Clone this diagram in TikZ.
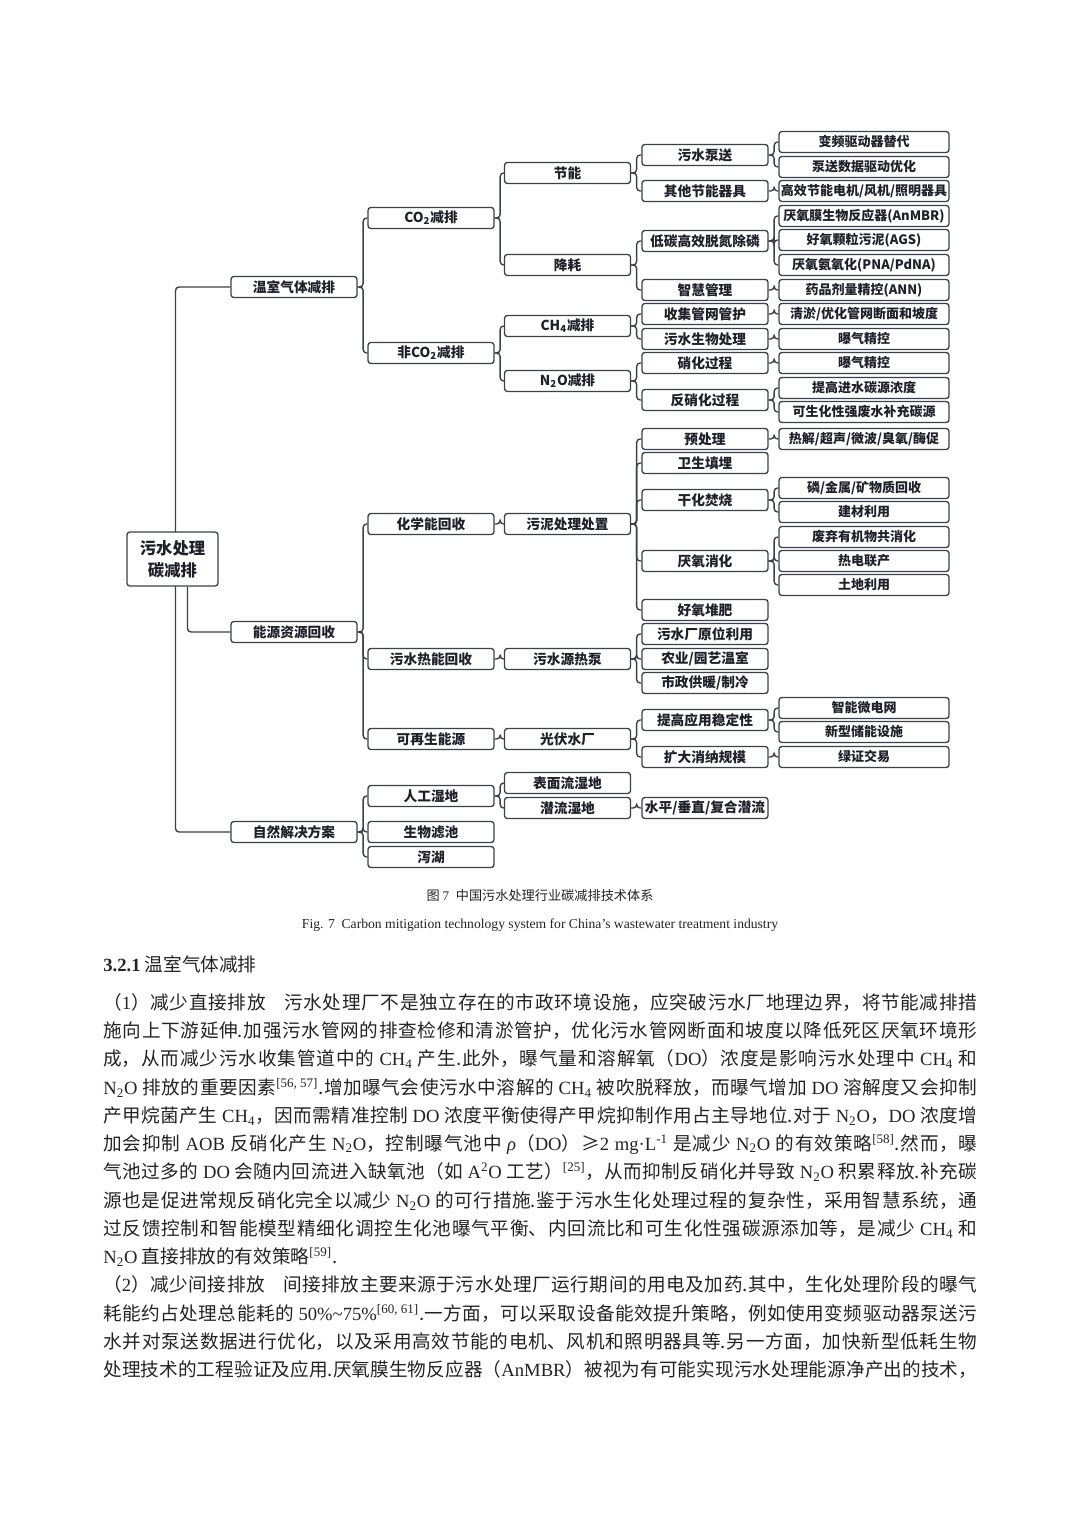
\documentclass[tikz,border=0pt]{standalone}
\usepackage{fontspec}
\setmainfont{Liberation Serif}
\newfontfamily\cjk{Noto Sans CJK SC}
\usetikzlibrary{backgrounds}
\XeTeXlinebreaklocale "zh"
\XeTeXlinebreakskip=0pt plus 1pt
\tolerance=10000
\hbadness=10000
\definecolor{LineGray}{RGB}{60,64,76}
\definecolor{InkDark}{RGB}{30,32,42}
\definecolor{BodyInk}{RGB}{35,35,35}
\newcommand\lat[1]{{\rmfamily #1}}
\newcommand\fullline{\parfillskip 0pt\relax}
\tikzset{
  box/.style={draw=LineGray, line width=0.75pt, rounded corners=1.6pt, fill=white,
    minimum width=2.52cm, minimum height=0.42cm, inner sep=0pt, text=InkDark,
    font=\cjk\bfseries\fontsize{7.8}{9}\selectfont},
  leaf/.style={box, minimum width=3.40cm, font=\cjk\bfseries\fontsize{7.4}{9}\selectfont},
  link/.style={draw=LineGray, line width=0.8pt, rounded corners=2pt},
  bodyline/.style={anchor=west, inner sep=0pt, text width=17.48cm, align=justify,
    text=BodyInk, font=\cjk\fontsize{10.6}{12}\selectfont,
    execute at begin node=\fullline},
  lastline/.style={anchor=west, inner sep=0pt, text=BodyInk,
    font=\cjk\fontsize{10.6}{12}\selectfont}
}

\begin{document}
\begin{tikzpicture}[x=0.02cm,y=-0.02cm]
  \useasboundingbox (0,0) rectangle (1080,1527);

  \node[box, minimum width=1.82cm, minimum height=1.08cm, align=center,
    font=\cjk\bfseries\fontsize{9.3}{12.5}\selectfont] (root) at (172.5,559) {污水处理\\碳减排};

  \node[box] (ghg) at (294,287) {温室气体减排};
  \node[box] (ere) at (294,632) {能源资源回收};
  \node[box] (nbs) at (294,832) {自然解决方案};

  \node[box] (co2)   at (431,218) {CO\textsubscript{2}减排};
  \node[box] (nco2)  at (431,353) {非CO\textsubscript{2}减排};
  \node[box] (chem)  at (431,524) {化学能回收};
  \node[box] (heat)  at (431,659) {污水热能回收};
  \node[box] (renew) at (431,739) {可再生能源};
  \node[box] (wet)   at (431,796) {人工湿地};
  \node[box] (bfil)  at (431,832) {生物滤池};
  \node[box] (lag)   at (431,857) {泻湖};

  \node[box] (save) at (567.5,173) {节能};
  \node[box] (cut)  at (567.5,265) {降耗};
  \node[box] (ch4)  at (567.5,326) {CH\textsubscript{4}减排};
  \node[box] (n2o)  at (567.5,381) {N\textsubscript{2}O减排};
  \node[box] (slud) at (567.5,524) {污泥处理处置};
  \node[box] (hp)   at (567.5,659) {污水源热泵};
  \node[box] (pv)   at (567.5,739) {光伏水厂};
  \node[box] (sfw)  at (567.5,783) {表面流湿地};
  \node[box] (ssf)  at (567.5,808) {潜流湿地};

  \node[box] (pump)   at (705,155) {污水泵送};
  \node[box] (oth)    at (705,191) {其他节能器具};
  \node[box] (bnr)    at (705,241) {低碳高效脱氮除磷};
  \node[box] (smart)  at (705,290) {智慧管理};
  \node[box] (sewer)  at (705,314) {收集管网管护};
  \node[box] (bio)    at (705,339) {污水生物处理};
  \node[box] (nit)    at (705,363) {硝化过程};
  \node[box] (den)    at (705,400) {反硝化过程};
  \node[box] (pre)    at (705,439) {预处理};
  \node[box] (land)   at (705,463) {卫生填埋};
  \node[box] (inc)    at (705,500) {干化焚烧};
  \node[box] (ad)     at (705,561) {厌氧消化};
  \node[box] (comp)   at (705,610) {好氧堆肥};
  \node[box] (insitu) at (705,634) {污水厂原位利用};
  \node[box] (agri)   at (705,659) {农业/园艺温室};
  \node[box] (muni)   at (705,683) {市政供暖/制冷};
  \node[box] (stab)   at (705,720) {提高应用稳定性};
  \node[box] (scale)  at (705,757) {扩大消纳规模};
  \node[box] (flow)   at (705,808) {水平/垂直/复合潜流};

  \node[leaf] (vfd)    at (864,142) {变频驱动器替代};
  \node[leaf] (pdata)  at (864,167) {泵送数据驱动优化};
  \node[leaf] (eff)    at (864,191) {高效节能电机/风机/照明器具};
  \node[leaf] (anmbr)  at (864,216) {厌氧膜生物反应器(AnMBR)};
  \node[leaf] (ags)    at (864,240) {好氧颗粒污泥(AGS)};
  \node[leaf] (pna)    at (864,265) {厌氧氨氧化(PNA/PdNA)};
  \node[leaf] (ann)    at (864,290) {药品剂量精控(ANN)};
  \node[leaf] (dredge) at (864,314) {清淤/优化管网断面和坡度};
  \node[leaf] (aer1)   at (864,339) {曝气精控};
  \node[leaf] (aer2)   at (864,363) {曝气精控};
  \node[leaf] (carb)   at (864,388) {提高进水碳源浓度};
  \node[leaf] (ext)    at (864,412) {可生化性强废水补充碳源};
  \node[leaf] (pret)   at (864,439) {热解/超声/微波/臭氧/酶促};
  \node[leaf] (prec)   at (864,488) {磷/金属/矿物质回收};
  \node[leaf] (build)  at (864,512) {建材利用};
  \node[leaf] (codig)  at (864,537) {废弃有机物共消化};
  \node[leaf] (chp)    at (864,561) {热电联产};
  \node[leaf] (soil)   at (864,585) {土地利用};
  \node[leaf] (grid)   at (864,708) {智能微电网};
  \node[leaf] (store)  at (864,732) {新型储能设施};
  \node[leaf] (gcert)  at (864,757) {绿证交易};

  \begin{scope}[on background layer]
    \draw[link] (ghg.west) -| ([xshift=0.06cm]root.center) |- (nbs.west);
    \draw[link] ([xshift=0.3cm]root.south) |- (ere.west);
    \foreach \p/\c in {ghg/co2, ghg/nco2, ere/chem, ere/heat, ere/renew,
        nbs/wet, nbs/bfil, nbs/lag, co2/save, co2/cut, nco2/ch4, nco2/n2o,
        chem/slud, heat/hp, renew/pv, wet/sfw, wet/ssf,
        save/pump, save/oth, cut/bnr, cut/smart, ch4/sewer, ch4/bio,
        n2o/nit, n2o/den, slud/pre, slud/land, slud/inc, slud/ad, slud/comp,
        hp/insitu, hp/agri, hp/muni, pv/stab, pv/scale, ssf/flow,
        pump/vfd, pump/pdata, oth/eff, bnr/anmbr, bnr/ags, bnr/pna,
        smart/ann, sewer/dredge, bio/aer1, nit/aer2, den/carb, den/ext,
        pre/pret, inc/prec, inc/build, ad/codig, ad/chp, ad/soil,
        stab/grid, stab/store, scale/gcert}
      \draw[link] (\p.east) -- ++(0.11cm,0) |- (\c.west);
  \end{scope}

  \node[text=BodyInk, font=\cjk\fontsize{7.5}{9}\selectfont] (capzh) at (540,896)
    {图 \lat{7}\enspace 中国污水处理行业碳减排技术体系};
  \node[text=BodyInk, font=\rmfamily\fontsize{7.75}{9}\selectfont] (capen) at (540,925)
    {Fig. 7\enspace Carbon mitigation technology system for China’s wastewater treatment industry};

  \node[lastline] (sec) at (103,964) {\lat{\textbf{3.2.1}} 温室气体减排};

  \node[bodyline] (t1) at (103,1003) {（\lat{1}）减少直接排放\quad 污水处理厂不是独立存在的市政环境设施，应突破污水厂地理边界，将节能减排措};
  \node[bodyline] (t2) at (103,1031) {施向上下游延伸.加强污水管网的排查检修和清淤管护，优化污水管网断面和坡度以降低死区厌氧环境形};
  \node[bodyline] (t3) at (103,1059) {成，从而减少污水收集管道中的 \lat{CH\textsubscript{4}} 产生.此外，曝气量和溶解氧（\lat{DO}）浓度是影响污水处理中 \lat{CH\textsubscript{4}} 和};
  \node[bodyline] (t4) at (103,1088) {\lat{N\textsubscript{2}O} 排放的重要因素\lat{\textsuperscript{[56, 57]}}.增加曝气会使污水中溶解的 \lat{CH\textsubscript{4}} 被吹脱释放，而曝气增加 \lat{DO} 溶解度又会抑制};
  \node[bodyline] (t5) at (103,1116) {产甲烷菌产生 \lat{CH\textsubscript{4}}，因而需精准控制 \lat{DO} 浓度平衡使得产甲烷抑制作用占主导地位.对于 \lat{N\textsubscript{2}O}，\lat{DO} 浓度增};
  \node[bodyline] (t6) at (103,1144) {加会抑制 \lat{AOB} 反硝化产生 \lat{N\textsubscript{2}O}，控制曝气池中 \lat{\textit{ρ}}（\lat{DO}）≥\lat{2 mg·L\textsuperscript{-1}} 是减少 \lat{N\textsubscript{2}O} 的有效策略\lat{\textsuperscript{[58]}}.然而，曝};
  \node[bodyline] (t7) at (103,1172) {气池过多的 \lat{DO} 会随内回流进入缺氧池（如 \lat{A\textsuperscript{2}O} 工艺）\lat{\textsuperscript{[25]}}，从而抑制反硝化并导致 \lat{N\textsubscript{2}O} 积累释放.补充碳};
  \node[bodyline] (t8) at (103,1201) {源也是促进常规反硝化完全以减少 \lat{N\textsubscript{2}O} 的可行措施.鉴于污水生化处理过程的复杂性，采用智慧系统，通};
  \node[bodyline] (t9) at (103,1229) {过反馈控制和智能模型精细化调控生化池曝气平衡、内回流比和可生化性强碳源添加等，是减少 \lat{CH\textsubscript{4}} 和};
  \node[lastline] (t10) at (103,1257) {\lat{N\textsubscript{2}O} 直接排放的有效策略\lat{\textsuperscript{[59]}}.};
  \node[bodyline] (t11) at (103,1285) {（\lat{2}）减少间接排放\quad 间接排放主要来源于污水处理厂运行期间的用电及加药.其中，生化处理阶段的曝气};
  \node[bodyline] (t12) at (103,1313) {耗能约占处理总能耗的 \lat{50\%\textasciitilde 75\%\textsuperscript{[60, 61]}}.一方面，可以采取设备能效提升策略，例如使用变频驱动器泵送污};
  \node[bodyline] (t13) at (103,1342) {水并对泵送数据进行优化，以及采用高效节能的电机、风机和照明器具等.另一方面，加快新型低耗生物};
  \node[bodyline] (t14) at (103,1370) {处理技术的工程验证及应用.厌氧膜生物反应器（\lat{AnMBR}）被视为有可能实现污水处理能源净产出的技术，};
\end{tikzpicture}
\end{document}
